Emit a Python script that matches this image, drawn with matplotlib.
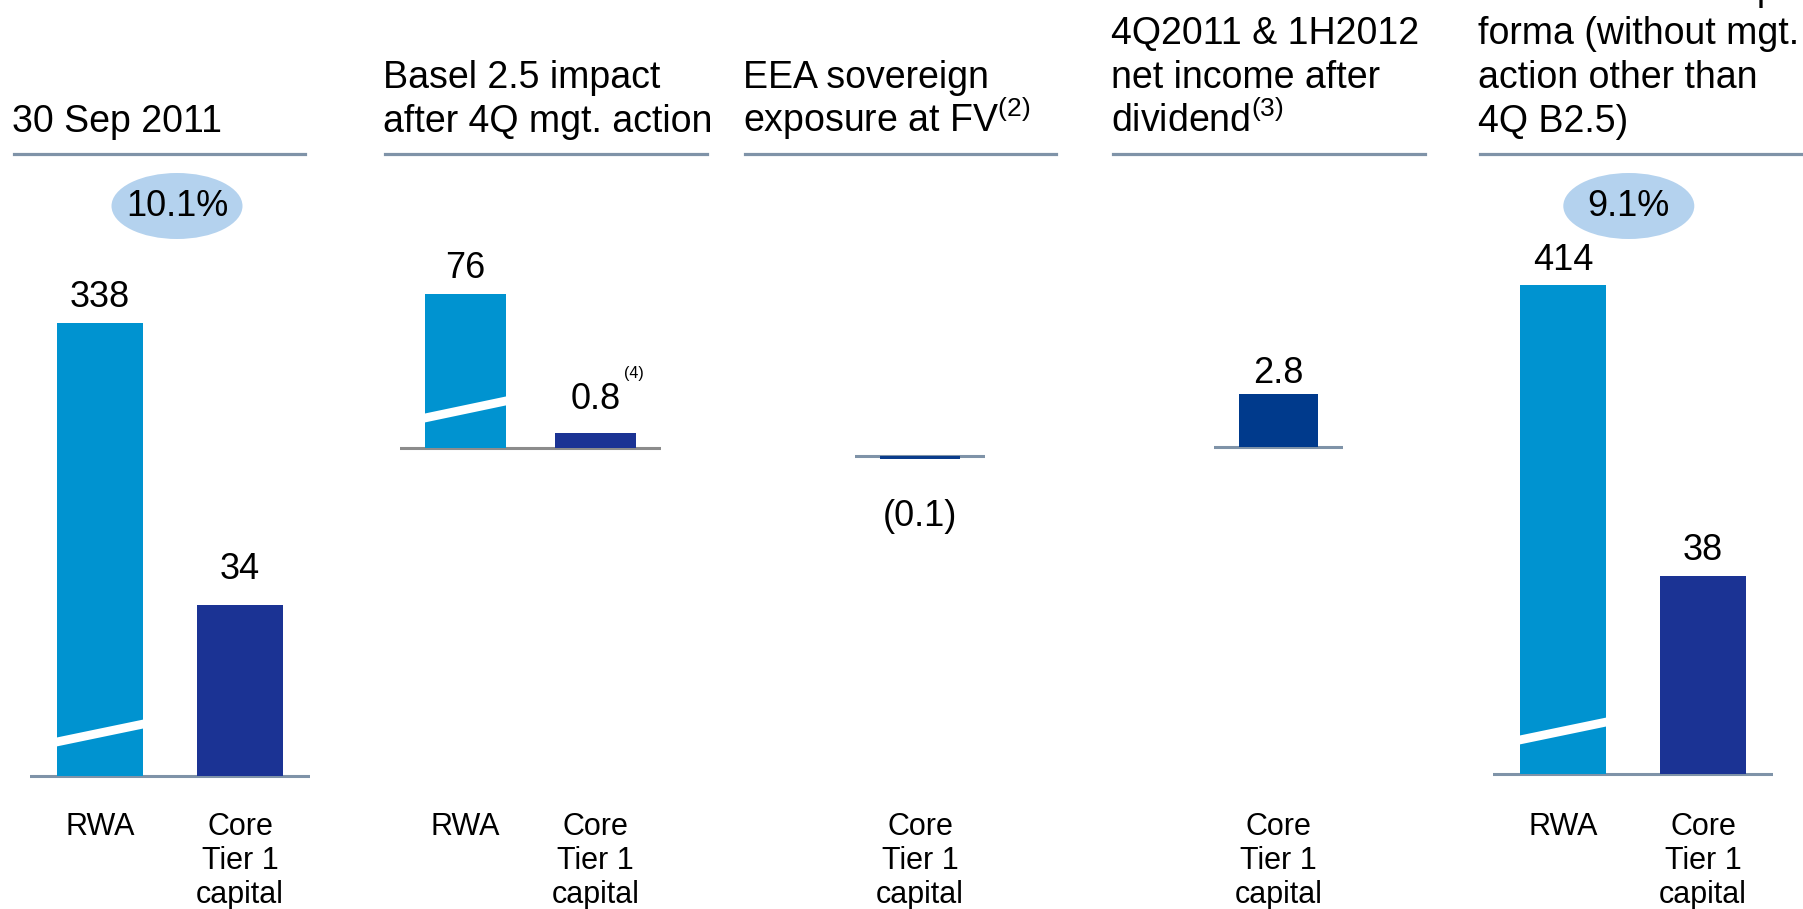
import matplotlib
matplotlib.use("Agg")
import matplotlib.pyplot as plt
import matplotlib.transforms as mtransforms
from matplotlib.patches import Ellipse
from matplotlib.lines import Line2D

plt.rcParams['font.family'] = ['Liberation Sans', 'DejaVu Sans']
plt.rcParams['mathtext.fontset'] = 'custom'
plt.rcParams['mathtext.rm'] = 'Liberation Sans'
plt.rcParams['mathtext.default'] = 'regular'

# ---- data ----
titles = ["30 Sep 2011",
          "Basel 2.5 impact\nafter 4Q mgt. action",
          "EEA sovereign\nexposure at FV$^{(2)}$",
          "4Q2011 & 1H2012\nnet income after\ndividend$^{(3)}$",
          "Core Tier 1 ratio pro\nforma (without mgt.\naction other than\n4Q B2.5)"]
rwa = [338, 76, None, None, 414]
ct1 = [34, 0.8, -0.1, 2.8, 38]
ct1_labels = ["34", "0.8", "(0.1)", "2.8", "38"]
ratios = ["10.1%", None, None, None, "9.1%"]
cat_rwa = "RWA"
cat_ct1 = "Core\nTier 1\ncapital"

# ---- layout (pixels of the 1803x909 canvas) ----
W, H = 1803, 909
AX_TOP, AX_BOT = 160, 800
base_x0 = [30, 400, 855, 1214, 1493]
base_x1 = [310, 661, 985, 1343, 1773]
base_y = [776, 448, 456, 447, 774]
title_x = [12, 383, 743, 1111, 1478]
line_x1 = [305, 707, 1056, 1425, 1810]
TITLE_BASE, TITLE_STEP = 132, 44
ct1_ppu = [5.03, 19.0, 30.0, 19.0, 5.2]     # px per unit, CT1 scale
rwa_ppu = [1.34, 2.03, None, None, 1.18]    # px per unit, broken RWA scale
brk = [(34, 52), (30, 47), None, None, (34, 52)]  # break stripe height at bar edges
ct1_gap = [26, 24, -57, 11, 16]             # label offset from bar end, px
oval_x = [0.55, None, None, None, 0.47]

C_RWA = '#0093D0'
C_CT1 = ['#1B3394', '#1B3394', '#0A3C8C', '#003A8C', '#1B3394']
C_LINE = '#7F93A8'
C_OVAL = '#B4D2EE'
BAR_W = 0.62
PT = 72 / 100  # points per pixel

fig = plt.figure(figsize=(W / 100, H / 100), dpi=100)


def fy(y):
    return 1 - y / H


for i in range(5):
    n = 2 if rwa[i] is not None else 1
    rect = [base_x0[i] / W, fy(AX_BOT), (base_x1[i] - base_x0[i]) / W, (AX_BOT - AX_TOP) / H]
    ax = fig.add_axes(rect)
    ax.set_xlim(-0.5, n - 0.5)
    ax.set_ylim(-(AX_BOT - base_y[i]) / ct1_ppu[i], (base_y[i] - AX_TOP) / ct1_ppu[i])
    ax.axis('off')
    blend = mtransforms.blended_transform_factory(ax.transData, fig.transFigure)

    # title (one text per line, bottom line on a common baseline) + underline
    lines = titles[i].split("\n")
    for k, line in enumerate(reversed(lines)):
        fig.text(title_x[i] / W, fy(TITLE_BASE - k * TITLE_STEP), line,
                 ha='left', va='baseline', fontsize=27)
    fig.add_artist(Line2D([title_x[i] / W + 0.001, line_x1[i] / W], [fy(154)] * 2,
                          color=C_LINE, lw=2.3))

    # baseline
    ax.axhline(0, color='#8C8C8C' if i == 1 else C_LINE, lw=2.2, zorder=1)

    # Core Tier 1 bar
    xc = n - 1
    ax.bar(xc, ct1[i], width=BAR_W, color=C_CT1[i], zorder=2)
    if ct1[i] >= 0:
        ax.annotate(ct1_labels[i], (xc, ct1[i]), xytext=(0, ct1_gap[i] * PT),
                    textcoords='offset points', ha='center', va='baseline', fontsize=26)
    else:
        ax.annotate(ct1_labels[i], (xc, ct1[i]), xytext=(0, ct1_gap[i] * PT),
                    textcoords='offset points', ha='center', va='center', fontsize=26)
    ax.text(xc, fy(812), cat_ct1, transform=blend, ha='center', va='top',
            fontsize=22, linespacing=1.17)

    # RWA bar on its own (broken) scale
    if rwa[i] is not None:
        axr = fig.add_axes(rect)
        axr.set_xlim(-0.5, n - 0.5)
        axr.set_ylim(-(AX_BOT - base_y[i]) / rwa_ppu[i], (base_y[i] - AX_TOP) / rwa_ppu[i])
        axr.axis('off')
        axr.bar(0, rwa[i], width=BAR_W, color=C_RWA, zorder=2)
        axr.annotate(str(rwa[i]), (0, rwa[i]), xytext=(0, 11.5), textcoords='offset points',
                     ha='center', va='baseline', fontsize=26)
        # break stripe
        yl, yr = brk[i]
        ext = 0.06
        slope = (yr - yl) / BAR_W
        xs = [-BAR_W / 2 - ext, BAR_W / 2 + ext]
        ys = [(yl - slope * ext) / rwa_ppu[i], (yr + slope * ext) / rwa_ppu[i]]
        axr.plot(xs, ys, color='white', lw=6.3, solid_capstyle='butt', zorder=3)
        axr.text(0, fy(812), cat_rwa, transform=blend, ha='center', va='top', fontsize=22)

    if i == 1:
        ax.annotate("(4)", (xc, ct1[i]), xytext=(20.5, 43), textcoords='offset points',
                    ha='left', va='center', fontsize=11.5)

    # ratio oval
    if ratios[i] is not None:
        ox = oval_x[i]
        ax.add_patch(Ellipse((ox, fy(206)), 131 / 140, 66 / H, transform=blend,
                             facecolor=C_OVAL, edgecolor='none', clip_on=False, zorder=4))
        ax.text(ox, fy(207), ratios[i], transform=blend, ha='center', va='center',
                fontsize=26, zorder=5)

fig.savefig("out.png", dpi=100)
